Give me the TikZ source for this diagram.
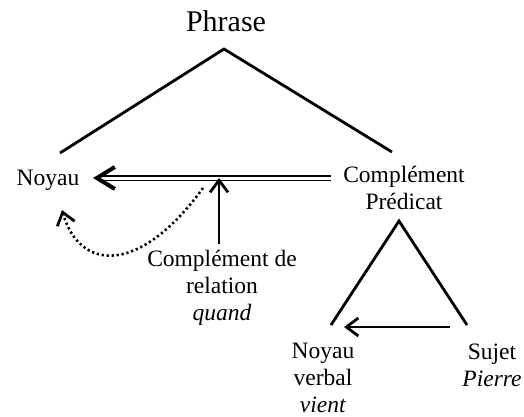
\documentclass[tikz,border=0pt]{standalone}
\usepackage{fontspec}
\setmainfont{Liberation Serif}
\usetikzlibrary{arrows.meta, positioning, calc}

\tikzset{
  lbl/.style={align=center, inner sep=0pt, font=\fontsize{11.75}{13.6}\selectfont},
  edge/.style={line width=1.4pt, black},
  tip/.style={-{Straight Barb[length=6pt, width=9pt, line width=1.4pt]}},
}

\begin{document}
\begin{tikzpicture}[x=0.5pt, y=-0.5pt]
  \useasboundingbox (0,0) rectangle (524,417);
  % labels
  \node[lbl, font=\fontsize{15}{17}\selectfont] (phrase) at (226,21) {Phrase};
  \node[lbl] (noyau) at (48,180) {Noyau};
  \node[lbl] (compred) at (404,188) {Complément\\ Prédicat};
  \node[lbl] (comprel) at (222,288) {Complément de\\ relation\\ \textit{quand}};
  \node[lbl] (noyauverb) at (323,378) {Noyau\\ verbal\\ \textit{vient}};
  \node[lbl] (sujet) at (492,365) {Sujet\\ \textit{Pierre}};
  % top triangle
  \coordinate (topapex) at (224,49);
  \coordinate (topleft) at (60,153);
  \coordinate (topright) at (392,152);
  \draw[edge] (topleft) -- (topapex) -- (topright);
  % double arrow predicat -> noyau
  \coordinate (dblstart) at (331,178);
  \coordinate (dblend) at (100,178);
  \coordinate (dbltip) at (93,178);
  \draw[double, double distance=1.5pt, line width=0.7pt] (dblstart) -- (dblend);
  \draw[-{Straight Barb[length=9pt, width=11pt, line width=2pt]}, line width=2pt] ($(dbltip)+(4,0)$) -- (dbltip);
  % relation arrow
  \coordinate (reltip) at (219,178);
  \draw[edge, tip] (comprel.north -| reltip) ++(0,-6) -- (reltip);
  \draw[line width=1.3pt, dash pattern=on 1.1pt off 1.4pt, tip]
    (203,188) .. controls (140,275) and (80,272) .. (62,210);
  % lower triangle
  \coordinate (lowapex) at (399,221);
  \coordinate (lowleft) at (331,325);
  \coordinate (lowright) at (467,325);
  \draw[edge] (lowleft) -- (lowapex) -- (lowright);
  \coordinate (sujarrow) at (450,327);
  \coordinate (nvarrow) at (344,327);
  \draw[edge, tip] (sujarrow) -- (nvarrow);
\end{tikzpicture}
\end{document}
